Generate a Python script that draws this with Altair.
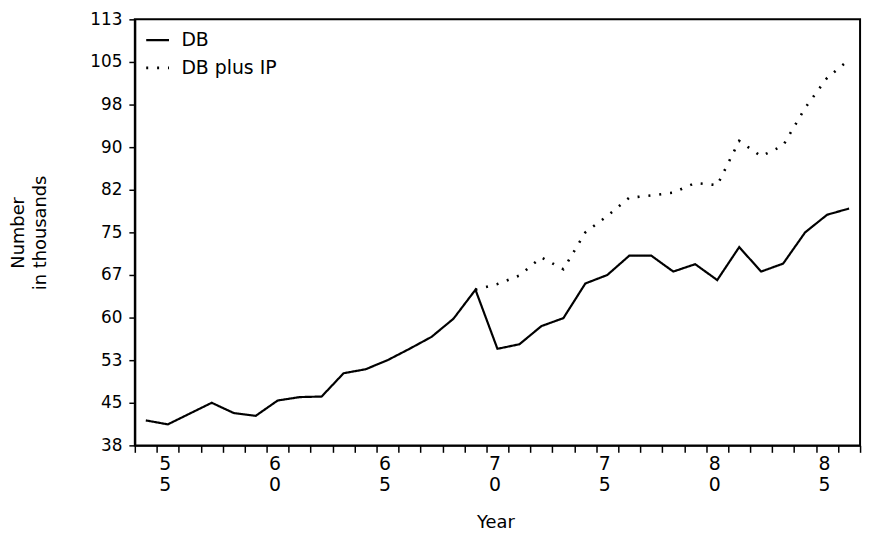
import altair as alt
import pandas as pd

# ---- data ----
years = [1954, 1955, 1956, 1957, 1958, 1959, 1960, 1961, 1962, 1963, 1964,
         1965, 1966, 1967, 1968, 1969, 1970, 1971, 1972, 1973, 1974, 1975,
         1976, 1977, 1978, 1979, 1980, 1981, 1982, 1983, 1984, 1985, 1986]
db = [41.9, 41.2, 43.1, 45.0, 43.2, 42.7, 45.4, 46.0, 46.1, 50.2, 50.9,
      52.5, 54.5, 56.6, 59.8, 64.9, 54.5, 55.3, 58.5, 59.9, 66.0, 67.5,
      70.9, 70.9, 68.1, 69.4, 66.6, 72.4, 68.1, 69.5, 75.0, 78.1, 79.2]

ip_years = [1969, 1970, 1971, 1972, 1973, 1974, 1975, 1976, 1977, 1978,
            1979, 1980, 1981, 1982, 1983, 1984, 1985, 1986]
db_plus_ip = [64.9, 65.9, 67.4, 70.6, 68.5, 75.0, 77.9, 81.1, 81.5, 82.0,
              83.7, 83.3, 91.1, 88.4, 90.3, 96.9, 102.2, 105.4]

series_names = ["DB", "DB plus IP"]

x_tick_years = [1954, 1955, 1956, 1957, 1958, 1959, 1960, 1961, 1962, 1963,
                1964, 1965, 1966, 1967, 1968, 1969, 1970, 1971, 1972, 1973,
                1974, 1975, 1976, 1977, 1978, 1979, 1980, 1981, 1982, 1983,
                1984, 1985, 1986, 1987]
x_label_years = [1955, 1960, 1965, 1970, 1975, 1980, 1985]

y_tick_values = [37.5, 45, 52.5, 60, 67.5, 75, 82.5, 90, 97.5, 105, 112.5]
y_tick_labels = ["38", "45", "53", "60", "67", "75", "82", "90", "98", "105", "113"]

rows = [{"year": y, "value": v, "series": series_names[0]} for y, v in zip(years, db)]
rows += [{"year": y, "value": v, "series": series_names[1]} for y, v in zip(ip_years, db_plus_ip)]
df = pd.DataFrame(rows)

FONT = "DejaVu Sans"

x_label_expr = (
    "indexof([" + ",".join(str(v) for v in x_label_years) + "], datum.value) >= 0 ? "
    "[substring(toString(datum.value), 2, 3), substring(toString(datum.value), 3, 4)] : ''"
)
y_label_expr = (
    "[" + ",".join("'" + s + "'" for s in y_tick_labels) + "]"
    "[indexof([" + ",".join(str(v) for v in y_tick_values) + "], datum.value)]"
)

chart = (
    alt.Chart(df)
    .transform_calculate(xpos="datum.year + 0.5")
    .mark_line(color="black", strokeCap="butt")
    .encode(
        x=alt.X(
            "xpos:Q",
            scale=alt.Scale(domain=[1954, 1987], nice=False, zero=False),
            axis=alt.Axis(
                values=x_tick_years,
                labelExpr=x_label_expr,
                title="Year",
                titleFontSize=18,
                titleFont=FONT,
                titleFontWeight="normal",
                titleColor="black",
                titleBaseline="middle",
                titleY=78,
                titleX=364,
                labelFontSize=19,
                labelFont=FONT,
                labelColor="black",
                labelLineHeight=22,
                labelBaseline="top",
                labelPadding=2,
                labelOffset=8,
                labelAngle=0,
                tickSize=7,
                tickWidth=1.5,
                tickColor="black",
                domainColor="black",
                domainWidth=2,
                grid=False,
                labelOverlap=False,
            ),
        ),
        y=alt.Y(
            "value:Q",
            scale=alt.Scale(domain=[37.5, 112.5], nice=False, zero=False),
            axis=alt.Axis(
                values=y_tick_values,
                labelExpr=y_label_expr,
                title=["Number", "in thousands"],
                titleFontSize=18,
                titleFont=FONT,
                titleFontWeight="normal",
                titleColor="black",
                titleLineHeight=22,
                titleAngle=270,
                titleAlign="center",
                titleBaseline="middle",
                titleX=-117,
                titleY=215,
                labelFontSize=17,
                labelFont=FONT,
                labelColor="black",
                labelPadding=7,
                tickSize=6,
                tickWidth=1.5,
                tickColor="black",
                domainColor="black",
                domainWidth=2,
                grid=False,
                labelOverlap=False,
            ),
        ),
        strokeDash=alt.StrokeDash(
            "series:N",
            scale=alt.Scale(domain=series_names, range=[[1, 0], [2, 9]]),
            legend=alt.Legend(
                title=None,
                orient="none",
                legendX=10,
                legendY=8,
                padding=0,
                labelFontSize=19,
                labelFont=FONT,
                labelColor="black",
                labelOffset=11,
                symbolSize=529,
                symbolStrokeWidth=2,
                symbolStrokeColor="black",
                symbolType="stroke",
                rowPadding=5,
            ),
        ),
        strokeWidth=alt.StrokeWidth(
            "series:N",
            scale=alt.Scale(domain=series_names, range=[2.2, 2.6]),
            legend=None,
        ),
        order=alt.Order("year:Q"),
    )
    .properties(
        width=732,
        height=430,
        background="white",
        autosize=alt.AutoSizeParams(type="none"),
        padding={"left": 128, "top": 9, "right": 7, "bottom": 89},
    )
    .configure_view(stroke="black", strokeWidth=2)
)

chart.save("out.html", embed_options={"renderer": "svg", "actions": False})
